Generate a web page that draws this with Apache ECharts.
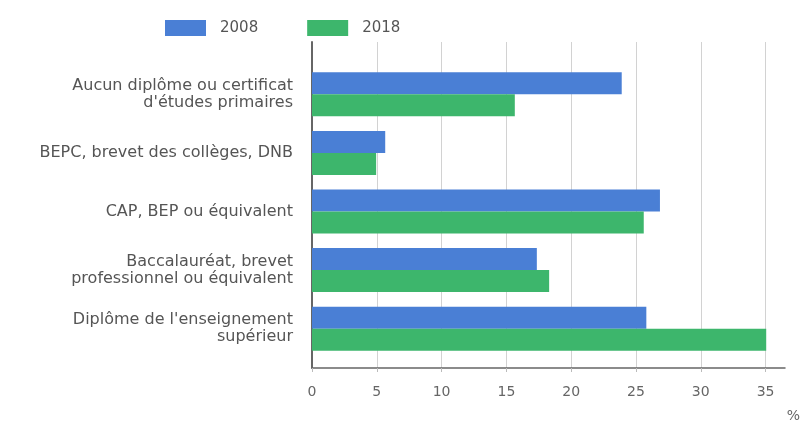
<!DOCTYPE html>
<html>
<head>
<meta charset="utf-8">
<script src="https://cdn.jsdelivr.net/npm/echarts@6/dist/echarts.min.js"></script>
<style>
html,body{margin:0;padding:0;background:#fff;}
#chart{width:805px;height:421px;}
</style>
</head>
<body>
<div id="chart"></div>
<script>
const categories = [
  "Aucun diplôme ou certificat\nd'études primaires",
  "BEPC, brevet des collèges, DNB",
  "CAP, BEP ou équivalent",
  "Baccalauréat, brevet\nprofessionnel ou équivalent",
  "Diplôme de l'enseignement\nsupérieur"
];
const seriesNames = ["2008", "2018"];
const values2008 = [23.9, 5.65, 26.85, 17.35, 25.8];
const values2018 = [15.65, 4.95, 25.6, 18.3, 35.05];
const xTickInterval = 5;
const unitLabel = "%";

const FONT = "DejaVu Sans";
const chart = echarts.init(document.getElementById('chart'), null, {renderer: 'canvas'});
chart.setOption({
  animation: false,
  backgroundColor: '#ffffff',
  title: {
    text: unitLabel, right: 0, top: 404,
    textStyle: {fontFamily: FONT, fontSize: 14, fontWeight: 'normal', color: '#666'}
  },
  legend: {
    data: seriesNames,
    left: 160, top: 15,
    itemWidth: 41, itemHeight: 16, itemGap: 49,
    icon: 'rect',
    textStyle: {fontFamily: FONT, fontSize: 15, color: '#555', padding: [0, 0, 0, 9]}
  },
  grid: [
    {left: 312, right: 20, top: 65, height: 293},
    {left: 312, right: 20, top: 42, bottom: 53}
  ],
  xAxis: [
    {gridIndex: 0, type: 'value', min: 0, max: 36.5, interval: xTickInterval,
     show: false},
    {gridIndex: 1, type: 'value', min: 0, max: 36.5, interval: xTickInterval,
     axisLine: {show: true, lineStyle: {color: '#666', width: 1.5}},
     axisTick: {show: true, length: 4, lineStyle: {color: '#bbb'}},
     axisLabel: {fontFamily: FONT, fontSize: 14, color: '#666', margin: 17, showMaxLabel: false},
     splitLine: {show: true, showMaxLine: false, lineStyle: {color: '#d2d2d2', width: 1}}}
  ],
  yAxis: [
    {gridIndex: 0, type: 'category', data: categories, inverse: true,
     axisLine: {show: false}, axisTick: {show: false}, splitLine: {show: false},
     axisLabel: {fontFamily: FONT, fontSize: 16, color: '#555', margin: 19, lineHeight: 17, align: 'right'}},
    {gridIndex: 1, type: 'value', min: 0, max: 1,
     axisLine: {show: true, lineStyle: {color: '#666', width: 2}},
     axisTick: {show: false}, axisLabel: {show: false}, splitLine: {show: false}}
  ],
  series: [
    {name: seriesNames[0], type: 'bar', xAxisIndex: 0, yAxisIndex: 0, data: values2008,
     barWidth: 22, barGap: '0%', itemStyle: {color: '#4a7fd5'}},
    {name: seriesNames[1], type: 'bar', xAxisIndex: 0, yAxisIndex: 0, data: values2018,
     barWidth: 22, barGap: '0%', itemStyle: {color: '#3db66c'}}
  ]
});
</script>
</body>
</html>
